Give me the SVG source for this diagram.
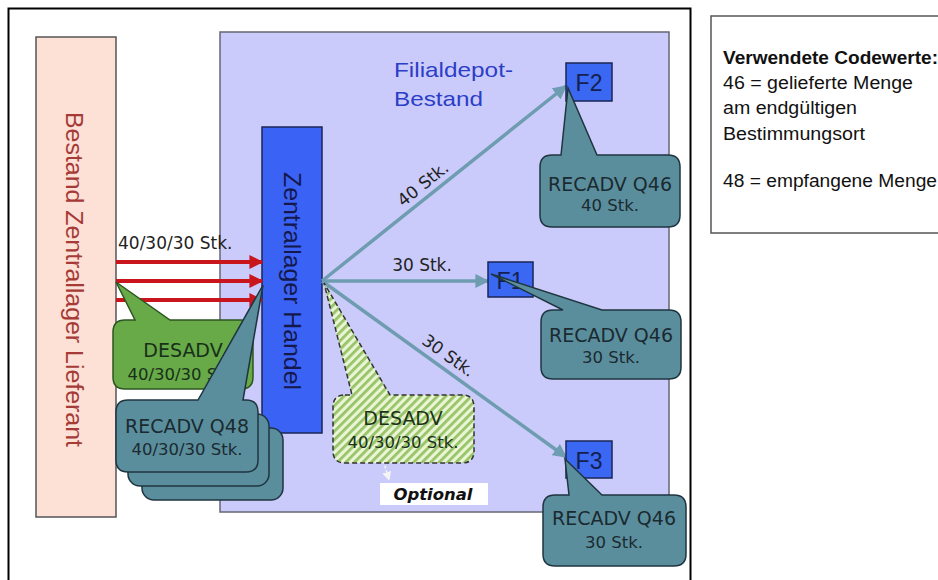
<svg xmlns="http://www.w3.org/2000/svg" width="938" height="580" viewBox="0 0 938 580">
<defs>
<style>
.lbl{font-family:"DejaVu Sans","Verdana",sans-serif;fill:#222;}
.cl1{font-family:"DejaVu Sans","Verdana",sans-serif;font-size:19px;fill:#1a2a30;text-anchor:middle;}
.cl2{font-family:"DejaVu Sans","Verdana",sans-serif;font-size:16.5px;fill:#1a2a30;text-anchor:middle;}
.teal{fill:#5b8e9d;stroke:#1f3540;stroke-width:1.5;}
.fbox{fill:#3a68f2;stroke:#1b2656;stroke-width:1.5;}
.ftxt{font-family:"Liberation Sans",Arial,sans-serif;font-size:23px;fill:#14204f;text-anchor:middle;}
.conn{stroke:#6e9cb0;stroke-width:3.5;fill:none;marker-end:url(#ah);}
.red{stroke:#c8161c;stroke-width:4;fill:none;marker-end:url(#rh);}
.leg{font-family:"Liberation Sans",Arial,sans-serif;font-size:17.5px;fill:#111;}
</style>
<marker id="ah" viewBox="0 0 10 10" refX="9" refY="5" markerWidth="4" markerHeight="4" orient="auto" markerUnits="strokeWidth">
<path d="M0,0 L10,5 L0,10 Z" fill="#6e9cb0"/>
</marker>
<marker id="rh" viewBox="0 0 10 10" refX="9" refY="5" markerWidth="3.5" markerHeight="3.5" orient="auto" markerUnits="strokeWidth">
<path d="M0,0 L10,5 L0,10 Z" fill="#c8161c"/>
</marker>
<marker id="wh" viewBox="0 0 10 10" refX="9" refY="5" markerWidth="6" markerHeight="6" orient="auto" markerUnits="strokeWidth">
<path d="M0,0 L10,5 L0,10 Z" fill="#f4f4f4"/>
</marker>
<pattern id="hatch" patternUnits="userSpaceOnUse" width="6" height="6" patternTransform="rotate(45)">
<rect width="6" height="6" fill="#eaf5d6"/>
<rect width="2.8" height="6" fill="#98c468"/>
</pattern>
</defs>

<rect x="0" y="0" width="938" height="580" fill="#ffffff"/>
<rect id="frame" x="8.5" y="8.5" width="682" height="600" fill="none" stroke="#000" stroke-width="2"/>

<g id="legend">
<rect x="711" y="16" width="240" height="217" fill="#fff" stroke="#555" stroke-width="1.5"/>
<text class="leg" x="723" y="64" font-weight="bold" textLength="215" lengthAdjust="spacingAndGlyphs">Verwendete Codewerte:</text>
<text class="leg" x="723" y="89" textLength="190" lengthAdjust="spacingAndGlyphs">46 = gelieferte Menge</text>
<text class="leg" x="723" y="114" textLength="134" lengthAdjust="spacingAndGlyphs">am endgültigen</text>
<text class="leg" x="723" y="140" textLength="142" lengthAdjust="spacingAndGlyphs">Bestimmungsort</text>
<text class="leg" x="723" y="187" textLength="214" lengthAdjust="spacingAndGlyphs">48 = empfangene Menge</text>
</g>

<g id="lieferant">
<rect x="36" y="37" width="80" height="480" fill="#fde0d6" stroke="#555" stroke-width="1.5"/>
<text transform="translate(66,112) rotate(90)" font-family="Liberation Sans, Arial, sans-serif" font-size="23" fill="#a53a36" textLength="335" lengthAdjust="spacingAndGlyphs">Bestand Zentrallager Lieferant</text>
</g>

<g id="filialdepot">
<rect x="220" y="32" width="449" height="480" fill="#cbcbfb" stroke="#666677" stroke-width="1.5"/>
<text x="394" y="77" font-family="Liberation Sans, Arial, sans-serif" font-size="21" fill="#2b3ec6" textLength="119" lengthAdjust="spacingAndGlyphs">Filialdepot-</text>
<text x="394" y="106" font-family="Liberation Sans, Arial, sans-serif" font-size="21" fill="#2b3ec6" textLength="89" lengthAdjust="spacingAndGlyphs">Bestand</text>
</g>

<g id="zentrallager">
<rect x="262" y="127" width="60" height="306" fill="#3a62f4" stroke="#1b2656" stroke-width="1.5"/>
<text transform="translate(284,172) rotate(90)" font-family="Liberation Sans, Arial, sans-serif" font-size="24" fill="#14184a" textLength="218" lengthAdjust="spacingAndGlyphs">Zentrallager Handel</text>
</g>

<g id="connectors">
<line class="red" x1="116" y1="262" x2="262" y2="262"/>
<line class="red" x1="116" y1="281" x2="262" y2="281"/>
<line class="red" x1="116" y1="300" x2="262" y2="300"/>
<text class="lbl" x="118" y="249" font-size="17">40/30/30 Stk.</text>
<line class="conn" x1="322" y1="281" x2="566" y2="86"/>
<line class="conn" x1="322" y1="281" x2="488" y2="281"/>
<line class="conn" x1="322" y1="281" x2="566" y2="457"/>
<text class="lbl" font-size="17" text-anchor="middle" transform="translate(431,194) rotate(-38.8)" x="0" y="-7">40 Stk.</text>
<text class="lbl" font-size="17" text-anchor="middle" x="422" y="271">30 Stk.</text>
<text class="lbl" font-size="17" text-anchor="middle" transform="translate(441,366) rotate(35.6)" x="0" y="-7">30 Stk.</text>
<line x1="382" y1="456" x2="389" y2="480" stroke="#f4f4f4" stroke-width="1.5" stroke-dasharray="3,2" marker-end="url(#wh)"/>
</g>

<g id="f2">
<rect class="fbox" x="566" y="63" width="46" height="38"/>
<text class="ftxt" x="589" y="91">F2</text>
</g>
<g id="f1">
<rect class="fbox" x="488" y="262" width="45" height="35"/>
<text class="ftxt" x="510" y="289">F1</text>
</g>
<g id="f3">
<rect class="fbox" x="566" y="441" width="46" height="37"/>
<text class="ftxt" x="589" y="469">F3</text>
</g>

<g id="recadv-f2">
<path class="teal" d="M552,155 L561,155 L568,88 L597,155 L668,155 Q680,155 680,167 L680,215 Q680,227 668,227 L552,227 Q540,227 540,215 L540,167 Q540,155 552,155 Z"/>
<text class="cl1" x="610" y="191">RECADV Q46</text>
<text class="cl2" x="610" y="211">40 Stk.</text>
</g>

<g id="recadv-f1">
<path class="teal" d="M553,310 L563,310 L491,274 L602,310 L669,310 Q681,310 681,322 L681,367 Q681,379 669,379 L553,379 Q541,379 541,367 L541,322 Q541,310 553,310 Z"/>
<text class="cl1" x="611" y="342">RECADV Q46</text>
<text class="cl2" x="611" y="363">30 Stk.</text>
</g>

<g id="recadv-f3">
<path class="teal" d="M555,495 L569,495 L565,459 L602,495 L674,495 Q686,495 686,507 L686,554 Q686,566 674,566 L555,566 Q543,566 543,554 L543,507 Q543,495 555,495 Z"/>
<text class="cl1" x="614" y="525">RECADV Q46</text>
<text class="cl2" x="614" y="548">30 Stk.</text>
</g>

<g id="desadv-green">
<path fill="#68a948" stroke="#2c5520" stroke-width="1.5" d="M125,320 L135,320 L116,282 L170,320 L241,320 Q253,320 253,332 L253,377 Q253,389 241,389 L125,389 Q113,389 113,377 L113,332 Q113,320 125,320 Z"/>
<text class="cl1" x="183" y="357" style="fill:#17301a">DESADV</text>
<text class="cl2" x="183" y="380" style="fill:#17301a">40/30/30 Stk.</text>
</g>

<g id="recadv-q48">
<rect class="teal" x="142" y="428" width="141" height="72" rx="12"/>
<rect class="teal" x="128" y="414" width="141" height="72" rx="12"/>
<path class="teal" d="M128,400 L198,400 L263,285 L243,400 L246,400 Q258,400 258,412 L258,460 Q258,472 246,472 L128,472 Q116,472 116,460 L116,412 Q116,400 128,400 Z"/>
<text class="cl1" x="187" y="433">RECADV Q48</text>
<text class="cl2" x="187" y="455">40/30/30 Stk.</text>
</g>

<g id="desadv-optional">
<path fill="url(#hatch)" stroke="#333" stroke-width="1.5" stroke-dasharray="5,3" d="M345,395 L352,395 L324,283 L390,395 L462,395 Q474,395 474,407 L474,451 Q474,463 462,463 L345,463 Q333,463 333,451 L333,407 Q333,395 345,395 Z"/>
<text class="cl1" x="403" y="425" style="fill:#1c3318">DESADV</text>
<text class="cl2" x="403" y="448" style="fill:#1c3318">40/30/30 Stk.</text>
</g>

<g id="optional">
<rect x="380" y="483" width="108" height="22" fill="#ffffff"/>
<text x="433" y="500" font-family="DejaVu Sans, Verdana, sans-serif" font-size="15" font-weight="bold" font-style="italic" fill="#111" text-anchor="middle" textLength="79" lengthAdjust="spacingAndGlyphs">Optional</text>
</g>
</svg>
